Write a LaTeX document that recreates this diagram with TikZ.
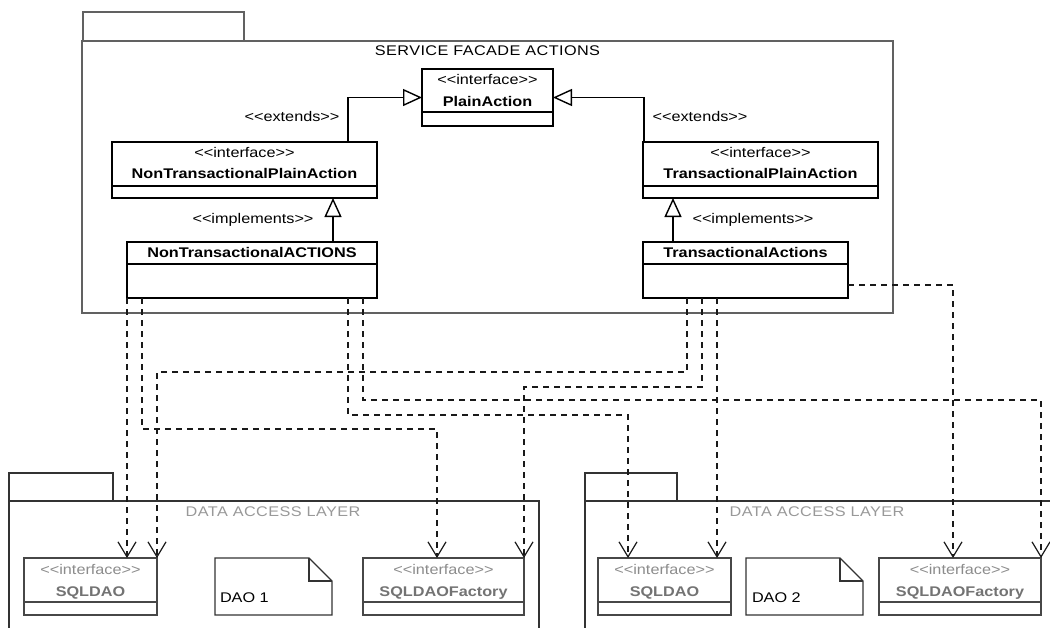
\documentclass[tikz,border=0pt]{standalone}
\usepackage{fontspec}
\setmainfont{Liberation Sans}[FakeStretch=1.16, Ligatures=TeXOff]
\usetikzlibrary{arrows.meta}
\begin{document}
\begin{tikzpicture}[x=1pt,y=-1pt,
  every node/.style={inner sep=0pt, outer sep=0pt},
  basefont/.style={font=\fontsize{14}{16}\selectfont, text height=10pt, text depth=3pt},
  pkg/.style={draw=black!62, line width=1.6pt, fill=white},
  pkgb/.style={draw=black!80, line width=1.3pt, fill=white},
  cls/.style={draw=black, line width=1.4pt, fill=white},
  gcls/.style={draw=black!72, line width=1.4pt, fill=white},
  notebox/.style={draw=none, fill=none},
  stereo/.style={basefont},
  cname/.style={basefont, font=\fontsize{14}{16}\selectfont\bfseries},
  gstereo/.style={stereo, text=black!45},
  gname/.style={cname, text=black!55},
  title/.style={basefont, font=\fontsize{14}{16}\selectfont\addfontfeatures{LetterSpace=3}},
  gtitle/.style={title, text=black!40},
  lbl/.style={basefont},
  gen/.style={draw=black, line width=1.4pt, -{Triangle[fill=white,length=19pt,width=17pt,line width=1.4pt]}},
  dep/.style={draw=black!90, line width=1.2pt, dash pattern=on 6pt off 5pt,
              -{Straight Barb[length=15pt,width=18pt,line width=1.2pt]}},
  divider/.style={line width=1.4pt}
]
\clip (0,0) rectangle (1050,627);
\fill[white] (0,0) rectangle (1050,627);

% ---------- service facade package ----------
\node[pkg, minimum width=161pt, minimum height=29pt] (sfTab) at (163.5,26.5) {};
\node[pkg, minimum width=811pt, minimum height=272pt] (sfBody) at (487.5,177) {};
\node[title] (sfTitle) at (487.5,52) {SERVICE FACADE ACTIONS};

% ---------- data access layer packages ----------
\node[pkgb, minimum width=104pt, minimum height=28pt] (dalTabA) at (61,487) {};
\node[pkgb, minimum width=530pt, minimum height=149pt] (dalBodyA) at (274,575.5) {};
\node[gtitle] (dalTitleA) at (273,513) {DATA ACCESS LAYER};

\node[pkgb, minimum width=92pt, minimum height=28pt] (dalTabB) at (631,487) {};
\node[pkgb, minimum width=480pt, minimum height=149pt] (dalBodyB) at (825,575.5) {};
\node[gtitle] (dalTitleB) at (817,513) {DATA ACCESS LAYER};

% ---------- facade classes ----------
\node[cls, minimum width=131pt, minimum height=57pt] (pa) at (487.5,97.5) {};
\draw[divider] ([yshift=14pt]pa.south west) -- ([yshift=14pt]pa.south east);
\node[stereo] (paSt) at (487.5,81) {<<interface>>};
\node[cname] (paNm) at (487.5,103) {PlainAction};

\node[cls, minimum width=265pt, minimum height=56pt] (npa) at (244.5,170) {};
\draw[divider] ([yshift=12pt]npa.south west) -- ([yshift=12pt]npa.south east);
\node[stereo] (npaSt) at (244.5,154) {<<interface>>};
\node[cname] (npaNm) at (244.5,175) {NonTransactionalPlainAction};

\node[cls, minimum width=235pt, minimum height=56pt] (tpa) at (760.5,170) {};
\draw[divider] ([yshift=12pt]tpa.south west) -- ([yshift=12pt]tpa.south east);
\node[stereo] (tpaSt) at (760.5,154) {<<interface>>};
\node[cname] (tpaNm) at (760.5,175) {TransactionalPlainAction};

\node[cls, minimum width=250pt, minimum height=56pt] (nta) at (252,270) {};
\draw[divider] ([yshift=-22pt]nta.north west) -- ([yshift=-22pt]nta.north east);
\node[cname] (ntaNm) at (252,254) {NonTransactionalACTIONS};

\node[cls, minimum width=205pt, minimum height=56pt] (ta) at (745.5,270) {};
\draw[divider] ([yshift=-22pt]ta.north west) -- ([yshift=-22pt]ta.north east);
\node[cname] (taNm) at (745.5,254) {TransactionalActions};

% generalisation / realisation
\draw[gen] ([xshift=236pt]npa.north west) |- (pa.west);
\draw[gen] ([xshift=1pt]tpa.north west) |- (pa.east);
\draw[gen] ([xshift=206pt]nta.north west) -- ([xshift=206pt]nta.north west |- npa.south);
\draw[gen] ([xshift=30pt]ta.north west) -- ([xshift=30pt]ta.north west |- tpa.south);

\node[lbl] (extL) at (292,118) {<<extends>>};
\node[lbl] (extR) at (700,118) {<<extends>>};
\node[lbl] (impL) at (253,220) {<<implements>>};
\node[lbl] (impR) at (753,220) {<<implements>>};

% ---------- data access classes ----------
\node[gcls, minimum width=133pt, minimum height=57pt] (s1) at (90.5,586.5) {};
\draw[divider, black!72] ([yshift=13pt]s1.south west) -- ([yshift=13pt]s1.south east);
\node[gstereo] (s1St) at (90.5,571) {<<interface>>};
\node[gname] (s1Nm) at (90.5,593) {SQLDAO};

\node[notebox, minimum width=117pt, minimum height=57pt] (n1) at (273.5,586.5) {};
\draw[line width=1.4pt, black!80] (n1.south west) |- ([xshift=-23pt]n1.north east)
  -- ([yshift=-23pt]n1.north east) -- (n1.south east) -- cycle;
\draw[line width=1.4pt, black!80] ([xshift=-23pt]n1.north east) |- ([yshift=-23pt]n1.north east);
\node[basefont, anchor=west] (n1Tx) at (220,599) {DAO 1};

\node[gcls, minimum width=161pt, minimum height=57pt] (f1) at (443.5,586.5) {};
\draw[divider, black!72] ([yshift=13pt]f1.south west) -- ([yshift=13pt]f1.south east);
\node[gstereo] (f1St) at (443.5,571) {<<interface>>};
\node[gname] (f1Nm) at (443.5,593) {SQLDAOFactory};

\node[gcls, minimum width=133pt, minimum height=57pt] (s2) at (664.5,586.5) {};
\draw[divider, black!72] ([yshift=13pt]s2.south west) -- ([yshift=13pt]s2.south east);
\node[gstereo] (s2St) at (664.5,571) {<<interface>>};
\node[gname] (s2Nm) at (664.5,593) {SQLDAO};

\node[notebox, minimum width=117pt, minimum height=57pt] (n2) at (804.5,586.5) {};
\draw[line width=1.4pt, black!80] (n2.south west) |- ([xshift=-23pt]n2.north east)
  -- ([yshift=-23pt]n2.north east) -- (n2.south east) -- cycle;
\draw[line width=1.4pt, black!80] ([xshift=-23pt]n2.north east) |- ([yshift=-23pt]n2.north east);
\node[basefont, anchor=west] (n2Tx) at (752,599) {DAO 2};

\node[gcls, minimum width=162pt, minimum height=57pt] (f2) at (960,586.5) {};
\draw[divider, black!72] ([yshift=13pt]f2.south west) -- ([yshift=13pt]f2.south east);
\node[gstereo] (f2St) at (960,571) {<<interface>>};
\node[gname] (f2Nm) at (960,593) {SQLDAOFactory};

% ---------- dependencies ----------
\draw[dep] (nta.south west) -- (nta.south west |- s1.north);
\draw[dep] ([xshift=15pt]nta.south west) -- ++(0,131) -| ([xshift=74pt]f1.north west);
\draw[dep] ([xshift=221pt]nta.south west) -- ++(0,117) -| ([xshift=30pt]s2.north west);
\draw[dep] ([xshift=236pt]nta.south west) -- ++(0,102) -| (f2.north east);

\draw[dep] ([xshift=44pt]ta.south west) -- ++(0,74) -| (s1.north east);
\draw[dep] ([xshift=59pt]ta.south west) -- ++(0,89) -| (f1.north east);
\draw[dep] ([xshift=74pt]ta.south west) -- ([xshift=74pt]ta.south west |- s2.north);
\draw[dep] ([yshift=-15pt]ta.east) -| ([xshift=74pt]f2.north west);

\end{tikzpicture}
\end{document}
